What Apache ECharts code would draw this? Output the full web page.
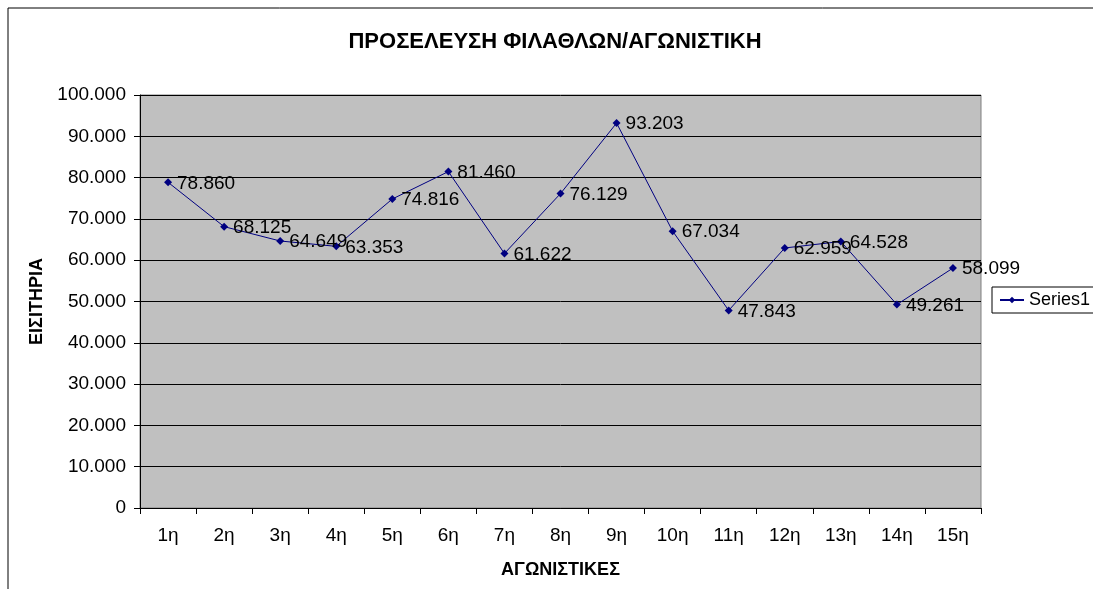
<!DOCTYPE html>
<html lang="el" style="height: 100%">
<head>
  <meta charset="utf-8">
</head>
<body style="height: 100%; margin: 0; background-color: #fff">
  <div id="container" style="width: 1093px; height: 589px"></div>
  <script src="https://cdn.jsdelivr.net/npm/echarts@6/dist/echarts.min.js"></script>
  <script>
    // αγωνιστικές και εισιτήρια
    var rounds = ['1η', '2η', '3η', '4η', '5η', '6η', '7η', '8η', '9η', '10η', '11η', '12η', '13η', '14η', '15η'];
    var tickets = [78860, 68125, 64649, 63353, 74816, 81460, 61622, 76129, 93203, 67034, 47843, 62959, 64528, 49261, 58099];

    function fmt(v) {
      // ελληνική μορφή: τελεία για χιλιάδες
      if (v === 0) return '0';
      var s = String(Math.round(v));
      return s.replace(/\B(?=(\d{3})+(?!\d))/g, '.');
    }

    var font = 'Liberation Sans, Arial, sans-serif';
    var chart = echarts.init(document.getElementById('container'), null, { renderer: 'canvas' });

    var option = {
      animation: false,
      textStyle: { fontFamily: font },
      title: {
        text: 'ΠΡΟΣΕΛΕΥΣΗ ΦΙΛΑΘΛΩΝ/ΑΓΩΝΙΣΤΙΚΗ',
        left: 550,
        top: 26,
        textAlign: 'center',
        textStyle: { fontSize: 22, fontWeight: 'bold', color: '#000', fontFamily: font }
      },
      graphic: [{
        type: 'rect',
        shape: { x: 8, y: 8, width: 1200, height: 700 },
        style: { fill: 'none', stroke: '#000', lineWidth: 1 },
        silent: true,
        z: -1
      }],
      legend: {
        left: 992,
        top: 287,
        orient: 'vertical',
        backgroundColor: '#fff',
        borderColor: '#000',
        borderWidth: 1,
        padding: [4, 30, 4, 7],
        itemWidth: 24,
        itemHeight: 8,
        itemGap: 0,
        textStyle: { fontSize: 18, color: '#000', fontFamily: font },
        data: ['Series1']
      },
      grid: {
        left: 140,
        top: 95,
        width: 841,
        height: 413,
        show: true,
        backgroundColor: '#C0C0C0',
        borderColor: '#808080',
        borderWidth: 1
      },
      xAxis: {
        type: 'category',
        data: rounds,
        boundaryGap: true,
        name: 'ΑΓΩΝΙΣΤΙΚΕΣ',
        nameLocation: 'middle',
        nameGap: 53,
        nameTextStyle: { fontSize: 18, fontWeight: 'bold', color: '#000' },
        axisLine: { lineStyle: { color: '#000', width: 1 } },
        axisTick: { show: true, length: 6, inside: false, lineStyle: { color: '#000' } },
        axisLabel: { color: '#000', fontSize: 19, margin: 18, interval: 0 },
        splitLine: { show: false }
      },
      yAxis: {
        type: 'value',
        min: 0,
        max: 100000,
        interval: 10000,
        name: 'ΕΙΣΙΤΗΡΙΑ',
        nameLocation: 'middle',
        nameRotate: 90,
        nameGap: 94,
        nameTextStyle: { fontSize: 18, fontWeight: 'bold', color: '#000' },
        axisLine: { show: true, lineStyle: { color: '#000', width: 1 } },
        axisTick: { show: true, length: 6, lineStyle: { color: '#000' } },
        axisLabel: { color: '#000', fontSize: 19, margin: 14, formatter: fmt },
        splitLine: { show: true, lineStyle: { color: '#000', width: 1 } }
      },
      series: [{
        name: 'Series1',
        type: 'line',
        data: tickets,
        color: '#000080',
        symbol: 'diamond',
        symbolSize: 8,
        showAllSymbol: true,
        lineStyle: { color: '#000080', width: 1 },
        itemStyle: { color: '#000080' },
        label: {
          show: true,
          position: 'right',
          distance: 5,
          offset: [0, 1],
          color: '#000',
          fontSize: 19,
          fontFamily: font,
          formatter: function (p) { return fmt(p.value); }
        }
      }]
    };

    chart.setOption(option);
    window.addEventListener('resize', chart.resize);
  </script>
</body>
</html>
